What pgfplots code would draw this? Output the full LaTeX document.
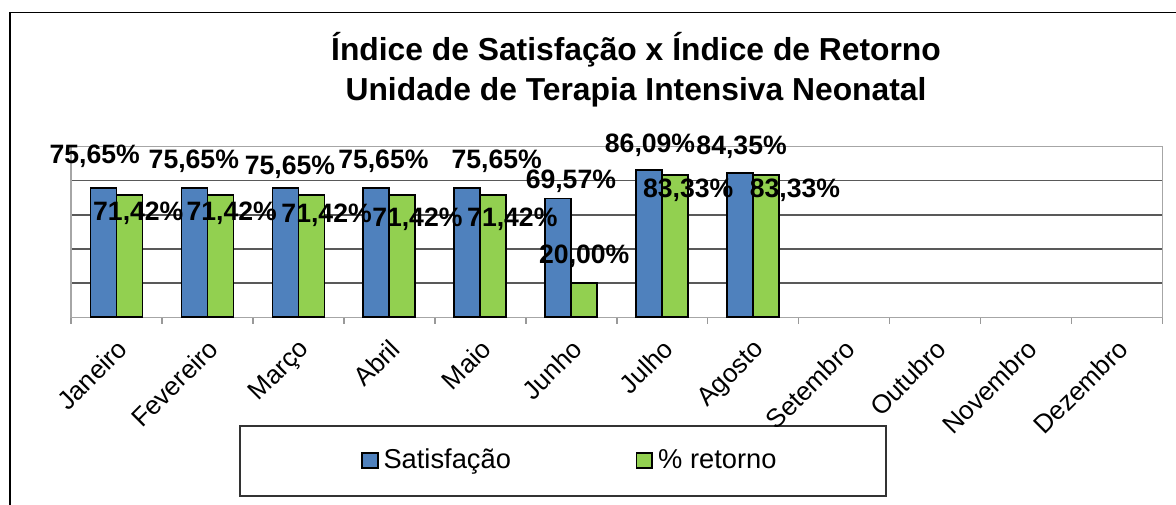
\documentclass[border=0pt]{standalone}
\usepackage{pgfplots}
\pgfplotsset{compat=1.18}
\usepackage{pgfplotstable}
\usepackage{fontspec}
\setmainfont{Liberation Sans}
\definecolor{satblue}{HTML}{4F81BD}
\definecolor{retgreen}{HTML}{92D050}
\pgfplotstableread{
x sat ret sdx sdy rdx rdy
0 75.65 71.42 -4.4 15.9 4.4 -9.0
1 75.65 71.42 -0.3 13.2 5.6 -9.0
2 75.65 71.42 2.3 10.3 7.6 -10.0
3 75.65 71.42 3.5 13.6 7.5 -11.8
4 75.65 71.42 14.7 13.2 9.5 -11.8
5 69.57 20.00 6.3 8.4 0.0 13.2
6 86.09 83.33 0.4 12.6 6.5 -7.5
7 84.35 83.33 0.7 13.2 14.4 -7.5
}\datatable
\begin{document}
\begin{tikzpicture}
\path[use as bounding box] (0,0) rectangle (588pt,252pt);
\draw[line width=0.8pt] (5pt,-2pt) -- (5pt,245.75pt) -- (590pt,245.75pt);
\node[align=center, font=\fontsize{15.9}{20}\selectfont\bfseries] at (318pt,217pt)
  {Índice de Satisfação x Índice de Retorno\\Unidade de Terapia Intensiva Neonatal};
\draw[black!80, line width=0.6pt] (120pt,4pt) rectangle (443pt,39pt);
\begin{axis}[
  at={(35.5pt,93.35pt)}, anchor=south west,
  scale only axis, width=545.75pt, height=85.4pt,
  xmin=-0.5, xmax=11.5, ymin=0, ymax=100,
  ybar=0pt, bar width=13pt,
  clip=false,
  /pgf/number format/assume math mode=true,
  xtick={0,...,11},
  xticklabels={Janeiro,Fevereiro,Março,Abril,Maio,Junho,Julho,Agosto,Setembro,Outubro,Novembro,Dezembro},
  minor xtick={-0.5,0.5,...,11.5},
  major tick length=0pt,
  minor tick length=3.3pt,
  tick align=outside,
  xtick pos=lower, ytick pos=left,
  minor tick style={gray!80, line width=0.75pt},
  ytick={20,40,60,80},
  yticklabels={},
  ytick style={draw=none},
  ymajorgrids,
  grid style={black!65, line width=0.75pt},
  axis line style={gray!70, line width=0.75pt},
  xticklabel style={font=\fontsize{13}{15}\selectfont, inner sep=0pt, xshift=-0.5pt, yshift=-10pt, rotate=45, anchor=north east},
  legend style={draw=none, fill=none, inner sep=0pt, outer sep=0pt,
    at={(0.2657,-0.8384)}, anchor=west, legend columns=2, column sep=0pt,
    font=\fontsize{13.65}{16}\selectfont,
    nodes={inner xsep=2.5pt, inner ysep=0pt},
    /tikz/every even column/.append style={column sep=59.85pt}},
]
\addplot[fill=satblue, draw=black, line width=0.9pt,
  legend image code/.code={\draw[fill=satblue, draw=black, line width=0.9pt] (0pt,-3.9pt) rectangle (7.85pt,3.9pt);},
  nodes near coords={\pgfmathprintnumber[fixed,fixed zerofill,precision=2,use comma]{\pgfplotspointmeta}\%},
  visualization depends on={\thisrow{sdx}\as\mydx},
  visualization depends on={\thisrow{sdy}\as\mydy},
  every node near coord/.append style={font=\fontsize{13.3}{16}\selectfont\bfseries, inner sep=0pt, anchor=center, xshift=\mydx pt, yshift=\mydy pt, text=black}
] table[x=x, y=sat] {\datatable};
\addplot[fill=retgreen, draw=black, line width=0.9pt,
  legend image code/.code={\draw[fill=retgreen, draw=black, line width=0.9pt] (0pt,-3.9pt) rectangle (7.85pt,3.9pt);},
  nodes near coords={\pgfmathprintnumber[fixed,fixed zerofill,precision=2,use comma]{\pgfplotspointmeta}\%},
  visualization depends on={\thisrow{rdx}\as\mydx},
  visualization depends on={\thisrow{rdy}\as\mydy},
  every node near coord/.append style={font=\fontsize{13.3}{16}\selectfont\bfseries, inner sep=0pt, anchor=center, xshift=\mydx pt, yshift=\mydy pt, text=black}
] table[x=x, y=ret] {\datatable};
\legend{Satisfação,\% retorno}
\end{axis}
\end{tikzpicture}
\end{document}
